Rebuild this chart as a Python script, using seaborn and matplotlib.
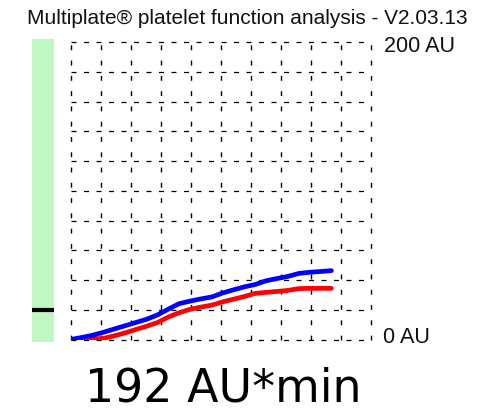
import numpy as np
import pandas as pd
import matplotlib
matplotlib.use("Agg")
import matplotlib.pyplot as plt
import seaborn as sns

# Aggregation curves (AU) sampled every 0.25 min over the 6 min test
time_min = [0.0, 0.25, 0.5, 0.75, 1.0, 1.25, 1.5, 1.75, 2.0, 2.25, 2.5, 2.75,
            3.0, 3.25, 3.5, 3.75, 4.0, 4.25, 4.5, 4.75, 5.0, 5.25, 5.5, 5.75, 6.0]
curve_blue = [0.0, 1.3, 2.8, 4.8, 7.0, 9.2, 11.4, 13.6, 16.5, 20.4, 24.1, 25.8,
              27.3, 28.6, 31.3, 33.4, 35.4, 37.0, 39.5, 41.0, 42.4, 44.4, 45.2, 45.7, 46.3]
curve_red = [0.0, 0.3, 0.5, 0.7, 2.4, 4.4, 6.7, 8.9, 11.4, 15.1, 18.0, 20.3,
             21.8, 23.1, 25.3, 27.1, 28.9, 31.0, 31.7, 32.3, 33.0, 34.2, 34.4, 34.4, 34.4]

y_max_au = 200
x_max_min = 6.9
reference_mark_au = 20
title_text = "Multiplate® platelet function analysis - V2.03.13"
top_label = "200 AU"
bottom_label = "0 AU"
result_text = "192 AU*min"

df = pd.DataFrame({
    "time": time_min * 2,
    "AU": curve_red + curve_blue,
    "channel": ["red"] * len(time_min) + ["blue"] * len(time_min),
})

sns.set_style("white")
plt.rcParams["font.family"] = ["DejaVu Sans"]

W, H = 481, 410
fig = plt.figure(figsize=(W / 100, H / 100), dpi=100)

def px_axes(x0, y0, x1, y1):
    return fig.add_axes([x0 / W, 1 - y1 / H, (x1 - x0) / W, (y1 - y0) / H])

ax = px_axes(70.5, 43, 370.5, 340.5)

sns.lineplot(data=df, x="time", y="AU", hue="channel", hue_order=["red", "blue"],
             palette={"red": "#ff0000", "blue": "#0000ff"}, linewidth=3.4,
             legend=False, ax=ax, zorder=3)

ax.set_xlim(0, x_max_min)
ax.set_ylim(0, y_max_au)
ax.set_xlabel("")
ax.set_ylabel("")

# dashed 10 x 10 grid on the division ticks
ax.set_xticks(np.linspace(0, x_max_min, 11))
ax.set_yticks(np.linspace(0, y_max_au, 11))
ax.tick_params(length=0, labelbottom=False, labelleft=False)
ax.xaxis.grid(True, color="black", linewidth=1.0, linestyle=(0, (3.5, 7.5)))
ax.yaxis.grid(True, color="black", linewidth=0.9, linestyle=(0, (4, 6)))
ax.set_axisbelow(True)
for s in ax.spines.values():
    s.set_visible(False)
for gl in ax.get_xgridlines() + ax.get_ygridlines():
    gl.set_clip_on(False)

# reference range bar with marker
axb = px_axes(32, 40, 54, 343)
axb.set_facecolor("#bff8c0")
axb.set_ylim(-1.7, 202)
axb.set_xlim(0, 1)
axb.axhline(reference_mark_au, color="black", lw=3.0)
axb.set_xticks([])
axb.set_yticks([])
for s in axb.spines.values():
    s.set_visible(False)

fig.text(247 / W, 1 - 18 / H, title_text, ha="center", va="center",
         fontsize=15, family="Liberation Sans", color="#111111")
fig.text(384 / W, 1 - 47 / H, top_label, ha="left", va="center",
         fontsize=15.5, family="Liberation Sans", color="#111111")
fig.text(383 / W, 1 - 338 / H, bottom_label, ha="left", va="center",
         fontsize=15.5, family="Liberation Sans", color="#111111")
fig.text(223 / W, 1 - 389 / H, result_text, ha="center", va="center",
         fontsize=33, family="DejaVu Sans", color="black")

fig.savefig("out.png", dpi=100)
